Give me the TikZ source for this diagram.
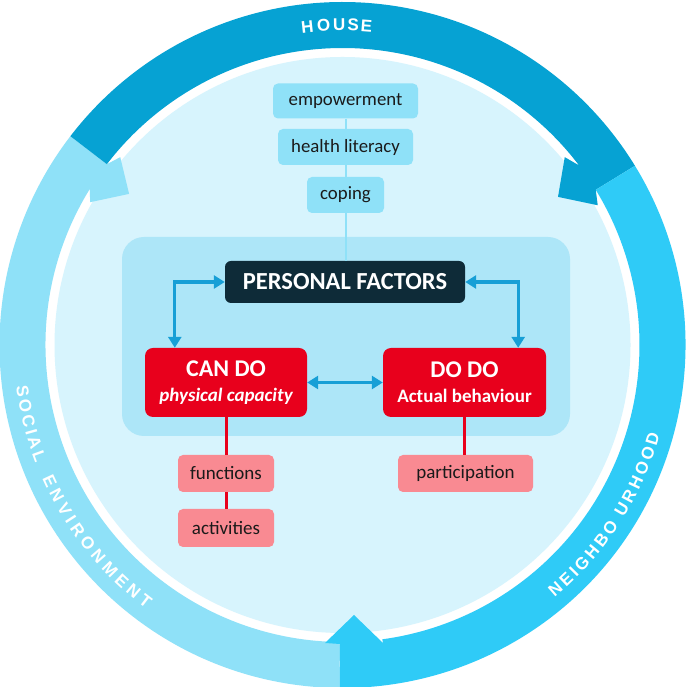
\documentclass[tikz,border=0pt]{standalone}
\usepackage{fontspec}
\setmainfont{Carlito}
\newfontfamily\ringfont{Liberation Sans}
\usetikzlibrary{arrows.meta}
\definecolor{housec}{HTML}{06A2D3}
\definecolor{neighc}{HTML}{2FCBF7}
\definecolor{socc}{HTML}{8FE1F8}
\definecolor{discc}{HTML}{D7F4FD}
\definecolor{contc}{HTML}{ADE6F8}
\definecolor{pfc}{HTML}{0E2B38}
\definecolor{redc}{HTML}{E8001C}
\definecolor{pinkc}{HTML}{F98A92}
\definecolor{arrc}{HTML}{179FD6}
\definecolor{txtc}{HTML}{1A1A1A}
\begin{document}
\begin{tikzpicture}[x=1pt,y=1pt,
 lbox/.style={fill=socc, rounded corners=5pt, text=txtc, font=\fontsize{18.8}{22}\selectfont, minimum height=35pt, inner sep=0pt},
 pbox/.style={fill=pinkc, rounded corners=5pt, text=txtc, font=\fontsize{19}{22}\selectfont, minimum height=37pt, minimum width=96pt, inner sep=0pt},
 rbox/.style={fill=redc, rounded corners=8pt, text=white, font=\fontsize{19}{25}\selectfont\bfseries, minimum height=69pt, inner sep=0pt, align=center},
 barrow/.style={draw=arrc, line width=3.3pt, {Triangle[length=11pt,width=13pt]}-{Triangle[length=11pt,width=13pt]}},
 rline/.style={draw=redc, line width=3pt},
 lline/.style={draw=socc, line width=2pt},
 ringtxt/.style={text=white, font=\ringfont\bfseries\fontsize{17}{17}\selectfont, inner sep=0pt},
]
\useasboundingbox (0,0) rectangle (685,687);
\fill[white] (0,0) rectangle (685,687);
\begin{scope}[shift={(342.5,342)}]
 \fill[discc] (0,0) circle[radius=288pt];
 % social environment
 \fill[socc] (269.5:343pt) arc[start angle=269.5, end angle=142.5, radius=343pt]
   -- (142.5:297pt) -- (139.8:291pt) -- (144.7:261.5pt) -- (150.5:290pt) -- (148.3:297pt)
   arc[start angle=148.3, end angle=269.5, radius=297pt] -- cycle;
 % house
 \fill[housec] (142.5:343pt) arc[start angle=142.5, end angle=31.5, radius=343pt]
   -- (31.5:297pt) -- (28.7:291pt) -- (34.5:261.5pt) -- (40.2:291pt) -- (37.2:297pt)
   arc[start angle=37.2, end angle=142.5, radius=297pt] -- cycle;
 % neighbourhood
 \fill[neighc] (31.5:343pt) arc[start angle=31.5, end angle=-90.5, radius=343pt]
   -- (-2.5,-299) -- (-17.5,-298) -- (11.5,-270) -- (40.5,-298) -- (-82.3:297pt)
   arc[start angle=-82.3, end angle=31.5, radius=297pt] -- cycle;
 % ring texts
 \foreach \l/\a [count=\i] in {H/96.3, O/93.4, U/90.6, S/88.1, E/85.7}
   \node[ringtxt, rotate=\a-90] (house\i) at (\a:320pt) {\l};
 \foreach \l/\a [count=\i] in {N/-48.9, E/-46.33, I/-44.43, G/-42.35, H/-39.62, B/-36.96, O/-34.23, U/-30.44, R/-27.78, H/-25.12, O/-22.39, O/-19.57, D/-16.84}
   \node[ringtxt, rotate=\a+90] (neigh\i) at (\a:324pt) {\l};
 \foreach \l/\a [count=\i] in {S/188.2, O/190.88, C/193.64, I/195.64, A/197.64, L/200.14, E/205.0, N/207.8, V/210.6, I/212.73, R/214.95, O/217.92, N/220.89, M/223.94, E/226.91, N/229.71, T/232.42}
   \node[ringtxt, rotate=\a+90] (soc\i) at (\a:323pt) {\l};
\end{scope}

% container
\node[fill=contc, rounded corners=22pt, minimum width=448pt, minimum height=199pt, inner sep=0pt] (cont) at (346,350.5) {};

% light boxes
\node[lbox, minimum width=145pt] (emp) at (345.5,586) {empowerment};
\node[lbox, minimum width=135pt, minimum height=36pt] (hl) at (345.5,540) {health literacy};
\node[lbox, minimum width=77pt, minimum height=36pt] (cop) at (345.5,492) {coping};

% personal factors
\node[fill=pfc, rounded corners=6pt, minimum width=240pt, minimum height=42pt, inner sep=0pt, text=white, font=\fontsize{24.5}{24.5}\selectfont\bfseries] (pf) at (345,405) {PERSONAL FACTORS};

\draw[lline] (emp.south) -- (hl.north);
\draw[lline] (hl.south) -- (cop.north);
\draw[lline] (cop.south) -- (cop.south |- pf.north);

% red boxes
\node[rbox, minimum width=162pt] (can) at (226,304.5) {{\fontsize{24}{25}\selectfont CAN DO}\\\itshape physical capacity};
\node[rbox, minimum width=163pt] (dodo) at (464.5,304.5) {{\fontsize{24}{25}\selectfont DO DO}\\Actual behaviour};

% pink boxes
\node[pbox] (fun) at (226,213.5) {functions};
\node[pbox, minimum height=38pt] (act) at (226,159) {activities};
\node[pbox, minimum width=135pt] (part) at (465.5,213.5) {participation};

\draw[rline] (can.south) -- (fun.north);
\draw[rline] (fun.south) -- (act.north);
\draw[rline] (dodo.south) -- (dodo.south |- part.north);

\draw[barrow] (pf.west) -| ([xshift=30pt]can.north west);
\draw[barrow] (pf.east) -| ([xshift=-28pt]dodo.north east);
\draw[barrow] (can.east) -- (dodo.west);
\end{tikzpicture}
\end{document}
